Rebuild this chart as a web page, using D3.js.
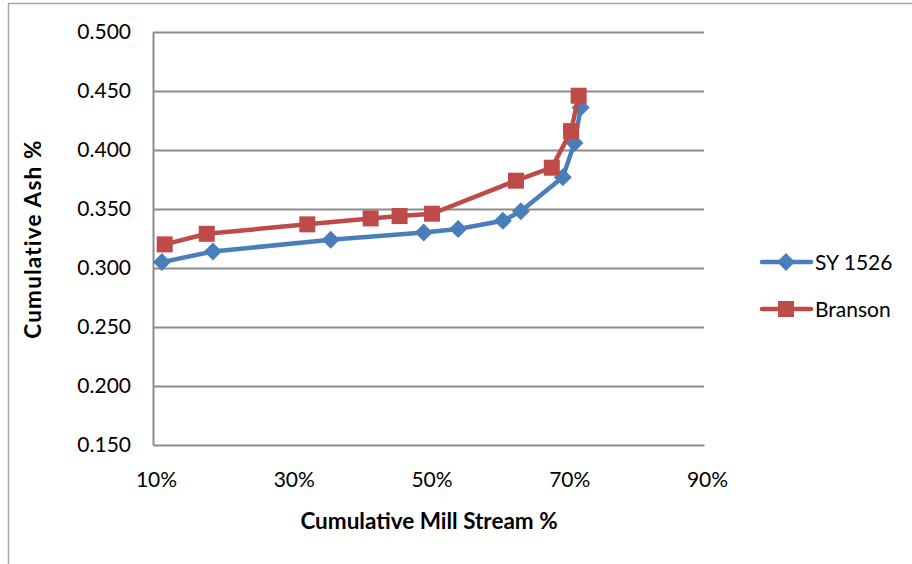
<!DOCTYPE html>
<html>
<head>
<meta charset="utf-8">
<script src="https://cdn.jsdelivr.net/npm/d3@7"></script>
<style>
  html, body { margin: 0; padding: 0; background: #fff; }
  svg { display: block; }
</style>
</head>
<body>
<script>
// Cumulative mill stream (%) vs cumulative ash (%) for two varieties
const syMill   = [11.3, 18.7, 35.8, 49.3, 54.3, 60.8, 63.4, 69.5, 71.2, 72.1];
const syAsh    = [0.305, 0.314, 0.324, 0.330, 0.333, 0.340, 0.348, 0.377, 0.406, 0.436];
const brMill   = [11.7, 17.8, 32.4, 41.6, 45.8, 50.5, 62.7, 67.9, 70.7, 71.8];
const brAsh    = [0.320, 0.329, 0.337, 0.342, 0.344, 0.346, 0.374, 0.385, 0.416, 0.446];
const seriesNames = ["SY 1526", "Branson"];
const xTicks = [10, 30, 50, 70, 90];
const yTicks = [0.150, 0.200, 0.250, 0.300, 0.350, 0.400, 0.450, 0.500];

const W = 912, H = 564;
const plot = { left: 153, right: 704, top: 32, bottom: 445 };
const font = "Lato, 'Open Sans', sans-serif";

const svg = d3.select("body").append("svg").attr("width", W).attr("height", H);

// chart frame
svg.append("rect")
  .attr("x", 8.5).attr("y", 3.5).attr("width", W).attr("height", H)
  .attr("fill", "#fff").attr("stroke", "#a6a6a6").attr("stroke-width", 1.5);

const x = d3.scaleLinear().domain([10, 90]).range([plot.left, plot.right]);
const y = d3.scaleLinear().domain([0.15, 0.5]).range([plot.bottom, plot.top]);

// horizontal gridlines
svg.append("g").selectAll("line").data(yTicks.slice(1)).join("line")
  .attr("x1", plot.left).attr("x2", plot.right)
  .attr("y1", d => Math.round(y(d)) + 0.5).attr("y2", d => Math.round(y(d)) + 0.5)
  .attr("stroke", "#8c8c8c").attr("stroke-width", 2);

// y axis
const yAxis = svg.append("g")
  .attr("transform", `translate(${plot.left},0)`)
  .call(d3.axisLeft(y).tickValues(yTicks).tickFormat(d3.format(".3f")).tickSize(0).tickPadding(22));
yAxis.select(".domain").attr("stroke", "#8c8c8c").attr("stroke-width", 2);
yAxis.selectAll("text").attr("font-family", font).attr("font-size", 21).attr("fill", "#000");

// x axis
const xAxis = svg.append("g")
  .attr("transform", `translate(0,${plot.bottom})`)
  .call(d3.axisBottom(x).tickValues(xTicks).tickFormat(d => d + "%").tickSize(0).tickPadding(27));
xAxis.select(".domain").attr("stroke", "#8c8c8c").attr("stroke-width", 2);
xAxis.selectAll("text").attr("font-family", font).attr("font-size", 21).attr("fill", "#000")
  .attr("dx", 3);

// axis titles
svg.append("text")
  .attr("x", 429).attr("y", 529).attr("text-anchor", "middle")
  .attr("font-family", font).attr("font-size", 22.5).attr("font-weight", "bold")
  .text("Cumulative Mill Stream %");
svg.append("text")
  .attr("transform", "translate(41,239) rotate(-90)").attr("text-anchor", "middle")
  .attr("font-family", font).attr("font-size", 22.5).attr("font-weight", "bold")
  .attr("letter-spacing", 1.2)
  .text("Cumulative Ash %");

const series = [
  { name: seriesNames[0], color: "#4a7ebb", shape: "diamond",
    pts: syMill.map((m, i) => [m, syAsh[i]]) },
  { name: seriesNames[1], color: "#be4b48", shape: "square",
    pts: brMill.map((m, i) => [m, brAsh[i]]) }
];

const line = d3.line().x(d => x(d[0])).y(d => y(d[1]));

function marker(g, s, cx, cy) {
  if (s.shape === "diamond") {
    g.append("path")
      .attr("d", `M${cx},${cy - 9}L${cx + 9},${cy}L${cx},${cy + 9}L${cx - 9},${cy}Z`)
      .attr("fill", s.color);
  } else {
    g.append("rect")
      .attr("x", cx - 8).attr("y", cy - 8).attr("width", 16).attr("height", 16)
      .attr("fill", s.color);
  }
}

series.forEach(s => {
  const g = svg.append("g");
  g.append("path").datum(s.pts).attr("d", line)
    .attr("fill", "none").attr("stroke", s.color)
    .attr("stroke-width", 4.5).attr("stroke-linejoin", "round");
  s.pts.forEach(p => marker(g, s, x(p[0]), y(p[1])));
});

// legend
series.forEach((s, i) => {
  const ly = 262 + i * 47;
  const g = svg.append("g");
  g.append("line").attr("x1", 762).attr("x2", 811).attr("y1", ly).attr("y2", ly)
    .attr("stroke", s.color).attr("stroke-width", 4.5).attr("stroke-linecap", "round");
  marker(g, s, 786, ly);
  g.append("text").attr("x", 815).attr("y", ly + 7.5)
    .attr("font-family", font).attr("font-size", 21).attr("fill", "#000")
    .text(s.name);
});
</script>
</body>
</html>
